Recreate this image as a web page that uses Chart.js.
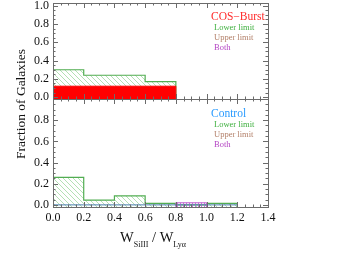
<!DOCTYPE html>
<html>
<head>
<meta charset="utf-8">
<script src="https://cdn.jsdelivr.net/npm/chart.js@4/dist/chart.umd.min.js"></script>
<style>
html,body{margin:0;padding:0;background:#fff;}
#wrap{position:relative;width:352px;height:255px;}
canvas{position:absolute;left:0;top:0;}
</style>
</head>
<body>
<div id="wrap">
<canvas id="topChart" width="352" height="255"></canvas>
<canvas id="botChart" width="352" height="255"></canvas>
</div>
<script>
// bins of W_SiIII / W_Lya
const binEdges = [0, 0.2, 0.4, 0.6, 0.8, 1.0, 1.2];
const xTickVals = [0, 0.2, 0.4, 0.6, 0.8, 1.0, 1.2, 1.4];
const yTickValsTop = [0, 0.2, 0.4, 0.6, 0.8, 1.0];
const yTickValsBot = [0, 0.2, 0.4, 0.6, 0.8];

// COS-Burst fractions
const burstDetections = [0.12, 0.12, 0.12, 0.12];
const burstLowerLimit = [0.30, 0.24, 0.24, 0.17];

// Control fractions
const controlDetections = [0, 0, 0, 0, 0, 0];
const controlLowerLimit = [0.26, 0.045, 0.085, 0.015, 0, 0.015];
const controlBoth = [0, 0, 0, 0, 0.02];

const legendRows = ['Lower limit', 'Upper limit', 'Both'];
const legendColors = ['#3fb03f', '#b3806a', '#b445c4'];

const yMinTop = -0.02, yMaxTop = 1.03;
const yMinBot = -0.02, yMaxBot = 1.0;

const serif = '"Liberation Serif", "Times New Roman", serif';

// build stepped histogram outline, dropping to base at both ends
function histLine(vals, base, keepZeros) {
    let i0 = 0, i1 = vals.length - 1;
    if (!keepZeros) {
        while (i0 < vals.length && !vals[i0]) i0++;
        while (i1 > i0 && !vals[i1]) i1--;
    }
    const pts = [];
    if (!keepZeros) pts.push({x: binEdges[i0], y: base});
    for (let i = i0; i <= i1; i++) pts.push({x: binEdges[i], y: vals[i]});
    pts.push({x: binEdges[i1 + 1], y: vals[i1]});
    if (!keepZeros) pts.push({x: binEdges[i1 + 1], y: base});
    return pts;
}

function hatch(color, kind) {
    const c = document.createElement('canvas');
    const n = kind == 'v' ? 3 : 5;
    c.width = n; c.height = n;
    const g = c.getContext('2d');
    g.fillStyle = color;
    for (let i = 0; i < n; i++) {
        if (kind == 'v') g.fillRect(0, i, 1, 1);
        else g.fillRect(i, i, 1, 1);
    }
    return g.createPattern(c, 'repeat');
}

// frame with inward ticks, IDL style
const frameTicks = {
    id: 'frameTicks',
    afterDatasetsDraw(chart) {
        const {ctx, chartArea: a, scales: {x, y}} = chart;
        ctx.save();
        ctx.strokeStyle = '#6b6b6b';
        ctx.lineWidth = 1;
        ctx.beginPath();
        for (let i = 0; i <= 28; i++) {
            const px = Math.round(x.getPixelForValue(i * 0.05)) + 0.5;
            const len = i % 4 == 0 ? 5 : 2.5;
            ctx.moveTo(px, a.bottom); ctx.lineTo(px, a.bottom - len);
            ctx.moveTo(px, a.top); ctx.lineTo(px, a.top + len);
        }
        for (let i = 0; i <= 20; i++) {
            const py = Math.round(y.getPixelForValue(i * 0.05)) + 0.5;
            if (py < a.top || py > a.bottom) continue;
            const len = i % 4 == 0 ? 5 : 2.5;
            ctx.moveTo(a.left, py); ctx.lineTo(a.left + len, py);
            ctx.moveTo(a.right, py); ctx.lineTo(a.right - len, py);
        }
        ctx.stroke();
        ctx.strokeRect(Math.round(a.left) + 0.5, Math.round(a.top) + 0.5,
            Math.round(a.right - a.left), Math.round(a.bottom - a.top));
        ctx.restore();
    },
    afterDraw(chart, args, opts) {
        const {ctx, chartArea: a} = chart;
        ctx.save();
        ctx.textBaseline = 'middle';
        ctx.textAlign = 'left';
        const tx = a.right - 57;
        const ty = a.top + opts.nameOffset;
        ctx.font = '11.5px ' + serif;
        ctx.fillStyle = opts.nameColor;
        ctx.fillText(opts.name, tx, ty);
        ctx.font = '8.5px ' + serif;
        legendRows.forEach((t, k) => {
            ctx.fillStyle = legendColors[k];
            ctx.fillText(t, tx + 3, ty + 11.5 + 10 * k);
        });
        if (opts.titles) {
            // y title spanning both panels
            ctx.save();
            ctx.translate(21, a.top + 5);
            ctx.rotate(-Math.PI / 2);
            ctx.textAlign = 'center';
            ctx.fillStyle = '#111';
            ctx.font = '13.5px ' + serif;
            ctx.fillText('Fraction of Galaxies', 0, 0);
            ctx.restore();
            // x title with subscripts
            ctx.textBaseline = 'alphabetic';
            ctx.fillStyle = '#111';
            const parts = [['W', 14.5, 0], ['SiIII', 8, 5], [' / ', 14.5, 0], ['W', 14.5, 0], ['Lyα', 8, 5]];
            let w = 0;
            parts.forEach(p => { ctx.font = p[1] + 'px ' + serif; w += ctx.measureText(p[0]).width; });
            let cx = 153 - w / 2;
            parts.forEach(p => {
                ctx.font = p[1] + 'px ' + serif;
                ctx.fillText(p[0], cx, 242 + p[2]);
                cx += ctx.measureText(p[0]).width;
            });
        }
        ctx.restore();
    }
};

function fixTicks(vals) {
    return s => { s.ticks = vals.map(v => ({value: v})); };
}

function panelOptions(yMin, yMax, yTicks, topPad, showX, extra) {
    return {
        responsive: false,
        animation: false,
        events: [],
        layout: {padding: {left: 0, right: 84, top: topPad, bottom: showX ? 0 : 156}},
        plugins: {legend: {display: false}, tooltip: {enabled: false}, frameTicks: extra},
        scales: {
            x: {
                type: 'linear', min: 0, max: 1.4,
                display: showX,
                afterBuildTicks: fixTicks(xTickVals),
                afterFit: s => { s.height = showX ? 48 : 0; s.paddingLeft = 0; s.paddingRight = 0; },
                grid: {display: false, drawTicks: false},
                border: {display: false},
                ticks: {padding: 4, maxRotation: 0, autoSkip: false, color: '#111',
                    font: {family: serif, size: 12}, callback: v => v.toFixed(1)}
            },
            y: {
                type: 'linear', min: yMin, max: yMax,
                afterBuildTicks: fixTicks(yTicks),
                afterFit: s => { s.width = 53; s.paddingTop = 0; s.paddingBottom = 0; },
                grid: {display: false, drawTicks: false},
                border: {display: false},
                ticks: {padding: 4, autoSkip: false, color: '#111',
                    font: {family: serif, size: 12}, callback: v => v.toFixed(1)}
            }
        }
    };
}

const greenHatch = hatch('#b4e0b4', 'd');
const magentaHatch = hatch('#c77ad4', 'v');

new Chart(document.getElementById('topChart'), {
    type: 'line',
    data: {
        datasets: [
            {data: histLine(burstDetections, yMinTop), stepped: true, fill: 'start',
                backgroundColor: '#ff0000', borderColor: '#ff0000', borderWidth: 1, pointRadius: 0, order: 0},
            {data: histLine(burstLowerLimit, yMinTop), stepped: true, fill: 'start',
                backgroundColor: greenHatch, borderColor: '#52ad52', borderWidth: 1.2, pointRadius: 0, order: 1}
        ]
    },
    options: panelOptions(yMinTop, yMaxTop, yTickValsTop, 3, false,
        {name: 'COS\u2212Burst', nameColor: '#ff2a2a', nameOffset: 13.5}),
    plugins: [frameTicks]
});

new Chart(document.getElementById('botChart'), {
    type: 'line',
    data: {
        datasets: [
            {data: histLine(controlDetections, yMinBot, true), stepped: true, fill: false,
                borderColor: '#4a7fb0', borderWidth: 1, pointRadius: 0, order: 0},
            {data: histLine(controlBoth, yMinBot), stepped: true, fill: 'start',
                backgroundColor: magentaHatch, borderColor: '#c060d0', borderWidth: 1, pointRadius: 0, order: 1},
            {data: histLine(controlLowerLimit, yMinBot), stepped: true, fill: 'start',
                backgroundColor: greenHatch, borderColor: '#52ad52', borderWidth: 1.2, pointRadius: 0, order: 2}
        ]
    },
    options: panelOptions(yMinBot, yMaxBot, yTickValsBot, 99, true,
        {name: 'Control', nameColor: '#2a9bff', nameOffset: 14.5, titles: true}),
    plugins: [frameTicks]
});
</script>
</body>
</html>
